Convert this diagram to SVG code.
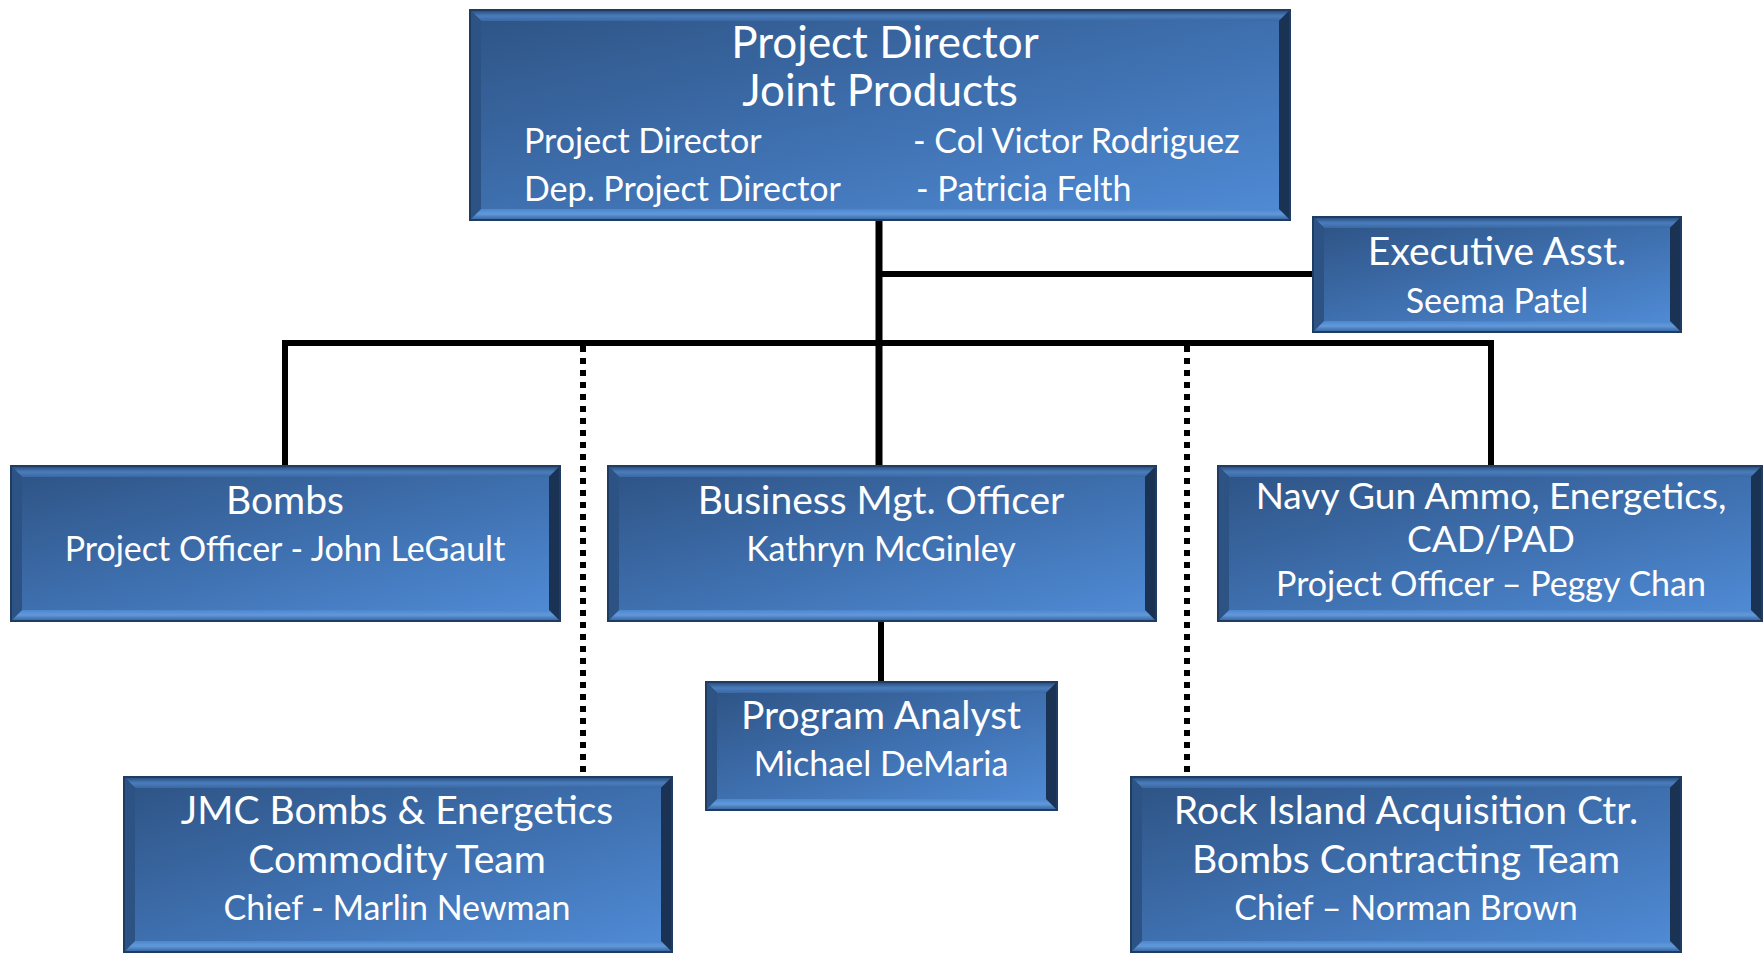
<svg xmlns="http://www.w3.org/2000/svg" width="1763" height="953" viewBox="0 0 1763 953">
<defs>
<linearGradient id="face" x1="0" y1="0" x2="1" y2="1">
<stop offset="0" stop-color="#2f5587"/>
<stop offset="0.5" stop-color="#3e6fae"/>
<stop offset="1" stop-color="#4f8ad4"/>
</linearGradient>
<linearGradient id="topb" x1="0" y1="0" x2="0" y2="1">
<stop offset="0" stop-color="#2c5283"/>
<stop offset="0.5" stop-color="#4a7dbd"/>
<stop offset="1" stop-color="#3a68a3"/>
</linearGradient>
<linearGradient id="botb" x1="0" y1="0" x2="0" y2="1">
<stop offset="0" stop-color="#4e86cc"/>
<stop offset="0.5" stop-color="#6199dc"/>
<stop offset="1" stop-color="#3c6aa5"/>
</linearGradient>
<style>
.edge{fill:#1f3c63;}
.face{fill:url(#face);}
.bt{fill:url(#topb);}
.bb{fill:url(#botb);}
.bl{fill:#2c5384;}
.br{fill:#1a3253;}
.t{font-family:Lato,"Open Sans","DejaVu Sans",sans-serif;fill:#ffffff;text-anchor:middle;}
.tl{font-family:Lato,"Open Sans","DejaVu Sans",sans-serif;fill:#ffffff;}
.big{font-size:39px;}
.nv{font-size:37px;}
.sm{font-size:34px;}
.ttl{font-size:44px;}
.ln{stroke:#000;stroke-width:6;fill:none;}
.dot{stroke:#000;stroke-width:6;fill:none;stroke-dasharray:6 6;}
</style>
</defs>
<rect width="1763" height="953" fill="#ffffff"/>
<g id="connectors">
<line class="ln" x1="879" y1="220" x2="879" y2="466" style="stroke-width:7"/>
<line class="ln" x1="879" y1="274" x2="1313" y2="274"/>
<line class="ln" x1="282" y1="343" x2="1494" y2="343"/>
<line class="ln" x1="285" y1="343" x2="285" y2="466"/>
<line class="ln" x1="1491" y1="343" x2="1491" y2="466"/>
<line class="ln" x1="881" y1="621" x2="881" y2="682"/>
<line class="dot" x1="583" y1="346" x2="583" y2="772"/>
<line class="dot" x1="1187" y1="346" x2="1187" y2="772"/>
</g>
<g id="director">
<rect class="edge" x="469" y="9" width="822" height="212"/>
<polygon class="bt" points="471,11 1289,11 1279,21 481,21"/>
<polygon class="bl" points="471,11 481,21 481,209 471,219"/>
<polygon class="br" points="1289,11 1289,219 1279,209 1279,21"/>
<polygon class="bb" points="471,219 481,209 1279,209 1289,219"/>
<rect class="face" x="481" y="21" width="798" height="188"/>
<text class="t ttl" x="885" y="58">Project Director</text>
<text class="t ttl" x="880" y="106">Joint Products</text>
<text class="tl sm" x="524" y="153">Project Director</text>
<text class="tl sm" x="913" y="153">- Col Victor Rodriguez</text>
<text class="tl sm" x="524" y="201">Dep. Project Director</text>
<text class="tl sm" x="916" y="201">- Patricia Felth</text>
</g>
<g id="exec">
<rect class="edge" x="1312" y="216" width="370" height="117"/>
<polygon class="bt" points="1314,218 1680,218 1670,228 1324,228"/>
<polygon class="bl" points="1314,218 1324,228 1324,321 1314,331"/>
<polygon class="br" points="1680,218 1680,331 1670,321 1670,228"/>
<polygon class="bb" points="1314,331 1324,321 1670,321 1680,331"/>
<rect class="face" x="1324" y="228" width="346" height="93"/>
<text class="t big" x="1497" y="265">Executive Asst.</text>
<text class="t sm" x="1497" y="313">Seema Patel</text>
</g>
<g id="bombs">
<rect class="edge" x="10" y="465" width="551" height="157"/>
<polygon class="bt" points="12,467 559,467 549,477 22,477"/>
<polygon class="bl" points="12,467 22,477 22,610 12,620"/>
<polygon class="br" points="559,467 559,620 549,610 549,477"/>
<polygon class="bb" points="12,620 22,610 549,610 559,620"/>
<rect class="face" x="22" y="477" width="527" height="133"/>
<text class="t big" x="285" y="514">Bombs</text>
<text class="t sm" x="285" y="561">Project Officer - John LeGault</text>
</g>
<g id="business">
<rect class="edge" x="607" y="465" width="550" height="157"/>
<polygon class="bt" points="609,467 1155,467 1145,477 619,477"/>
<polygon class="bl" points="609,467 619,477 619,610 609,620"/>
<polygon class="br" points="1155,467 1155,620 1145,610 1145,477"/>
<polygon class="bb" points="609,620 619,610 1145,610 1155,620"/>
<rect class="face" x="619" y="477" width="526" height="133"/>
<text class="t big" x="881" y="514">Business Mgt. Officer</text>
<text class="t sm" x="881" y="561">Kathryn McGinley</text>
</g>
<g id="navy">
<rect class="edge" x="1217" y="465" width="546" height="157"/>
<polygon class="bt" points="1219,467 1761,467 1751,477 1229,477"/>
<polygon class="bl" points="1219,467 1229,477 1229,610 1219,620"/>
<polygon class="br" points="1761,467 1761,620 1751,610 1751,477"/>
<polygon class="bb" points="1219,620 1229,610 1751,610 1761,620"/>
<rect class="face" x="1229" y="477" width="522" height="133"/>
<text class="t nv" x="1491" y="509">Navy Gun Ammo, Energetics,</text>
<text class="t nv" x="1491" y="552">CAD/PAD</text>
<text class="t sm" x="1491" y="596">Project Officer – Peggy Chan</text>
</g>
<g id="analyst">
<rect class="edge" x="705" y="681" width="353" height="130"/>
<polygon class="bt" points="707,683 1056,683 1046,693 717,693"/>
<polygon class="bl" points="707,683 717,693 717,799 707,809"/>
<polygon class="br" points="1056,683 1056,809 1046,799 1046,693"/>
<polygon class="bb" points="707,809 717,799 1046,799 1056,809"/>
<rect class="face" x="717" y="693" width="329" height="106"/>
<text class="t big" x="881" y="729">Program Analyst</text>
<text class="t sm" x="881" y="776">Michael DeMaria</text>
</g>
<g id="jmc">
<rect class="edge" x="123" y="776" width="550" height="177"/>
<polygon class="bt" points="125,778 671,778 661,788 135,788"/>
<polygon class="bl" points="125,778 135,788 135,941 125,951"/>
<polygon class="br" points="671,778 671,951 661,941 661,788"/>
<polygon class="bb" points="125,951 135,941 661,941 671,951"/>
<rect class="face" x="135" y="788" width="526" height="153"/>
<text class="t big" x="397" y="824">JMC Bombs &amp; Energetics</text>
<text class="t big" x="397" y="873">Commodity Team</text>
<text class="t sm" x="397" y="920">Chief - Marlin Newman</text>
</g>
<g id="rockisland">
<rect class="edge" x="1130" y="776" width="552" height="177"/>
<polygon class="bt" points="1132,778 1680,778 1670,788 1142,788"/>
<polygon class="bl" points="1132,778 1142,788 1142,941 1132,951"/>
<polygon class="br" points="1680,778 1680,951 1670,941 1670,788"/>
<polygon class="bb" points="1132,951 1142,941 1670,941 1680,951"/>
<rect class="face" x="1142" y="788" width="528" height="153"/>
<text class="t big" x="1406" y="824">Rock Island Acquisition Ctr.</text>
<text class="t big" x="1406" y="873">Bombs Contracting Team</text>
<text class="t sm" x="1406" y="920">Chief – Norman Brown</text>
</g>
</svg>
